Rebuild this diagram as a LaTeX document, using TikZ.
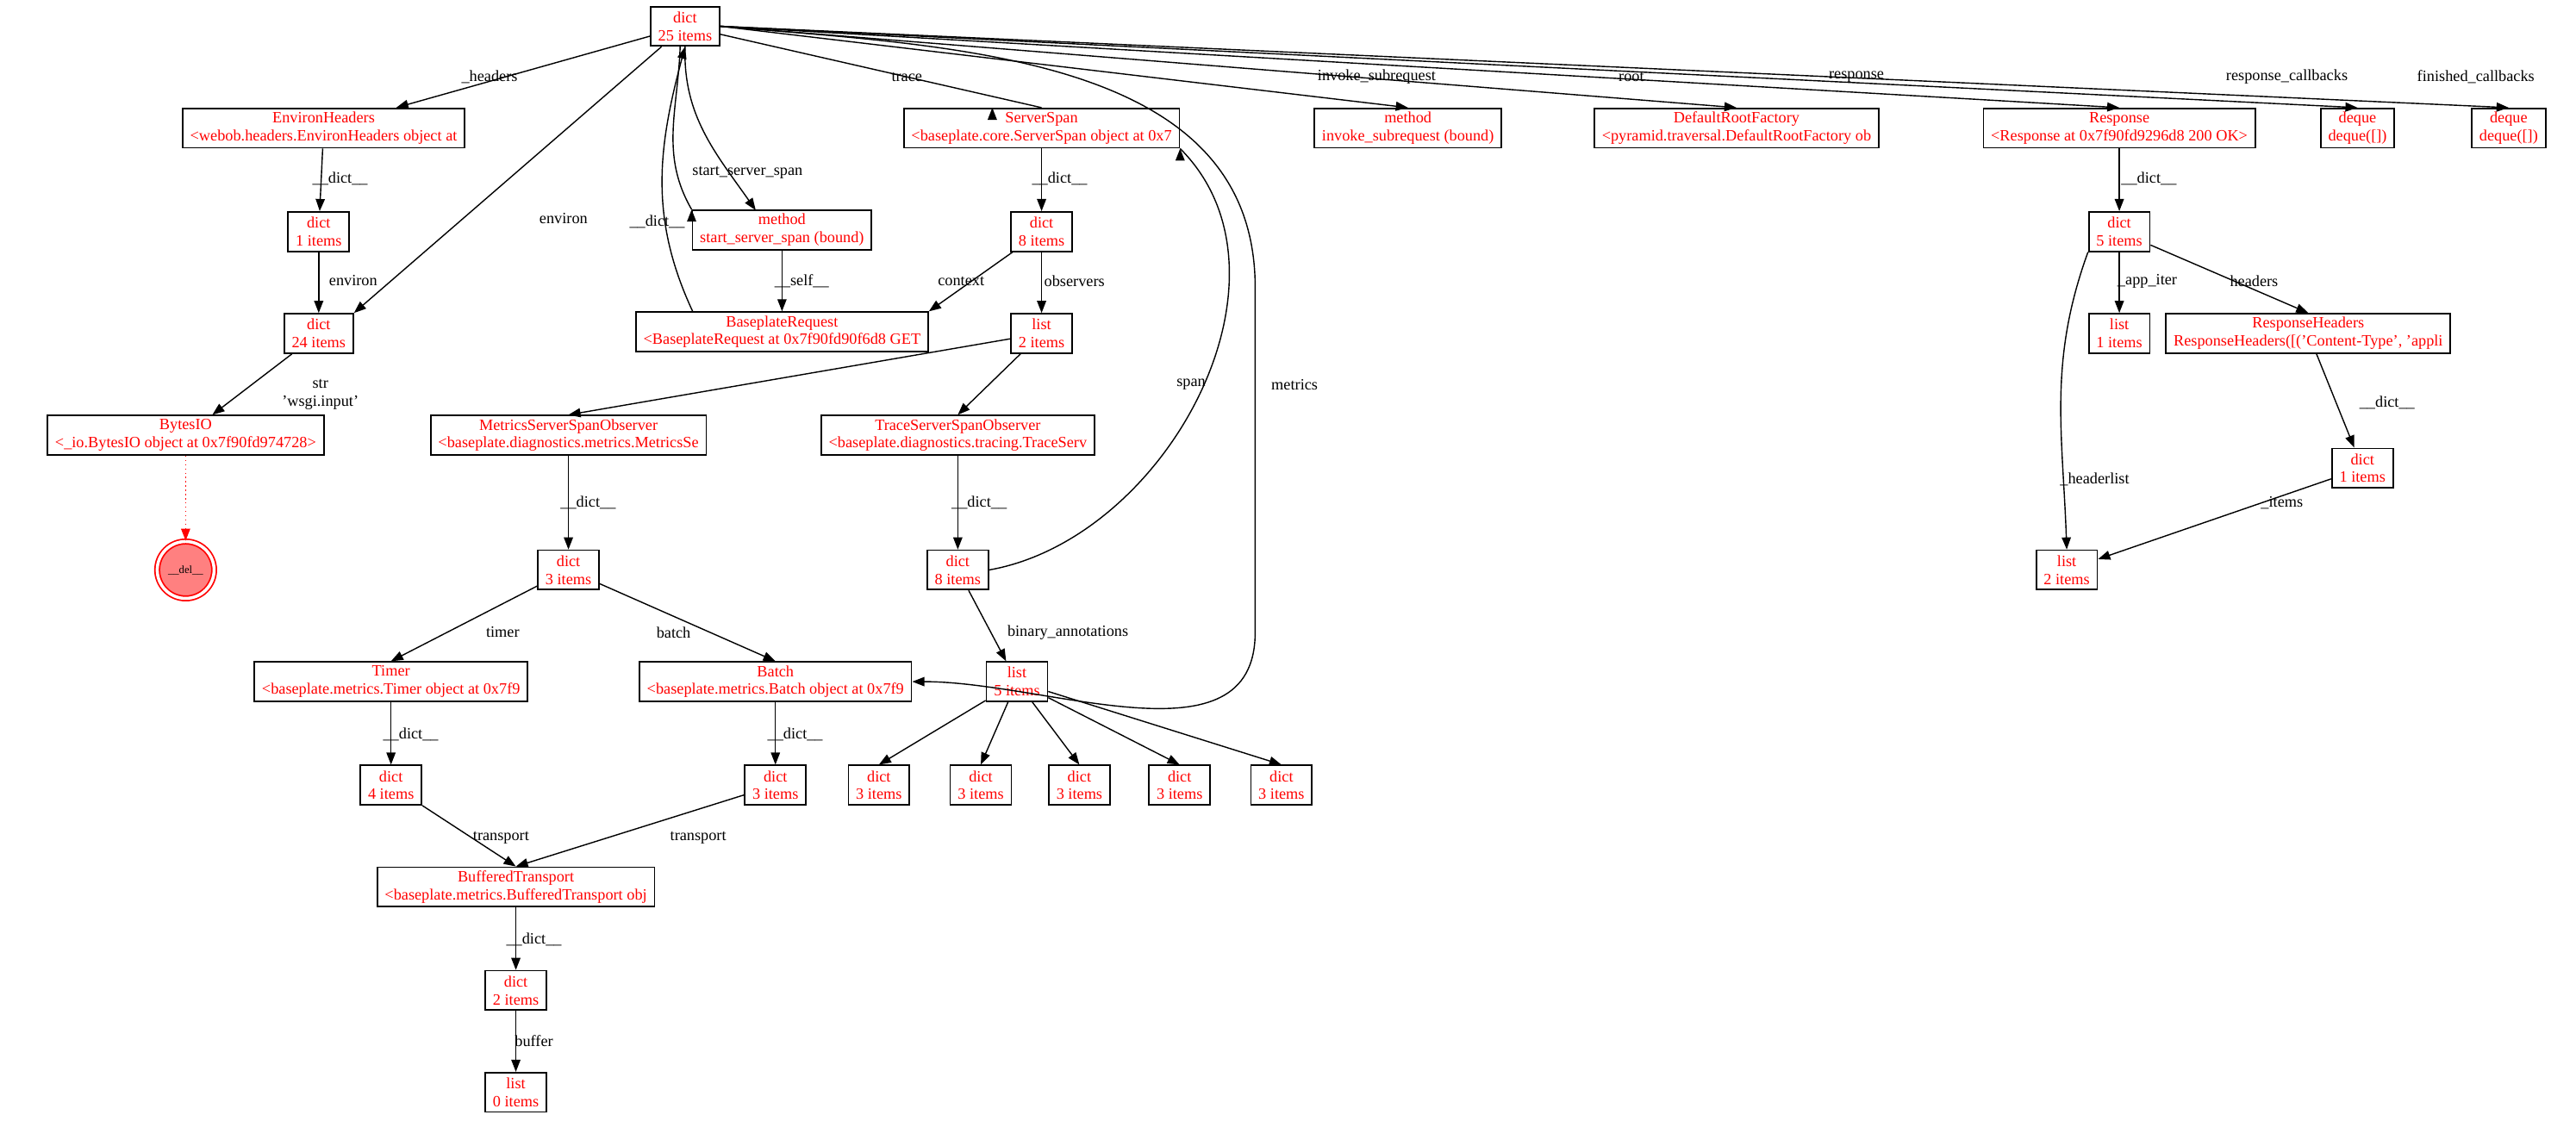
\documentclass[tikz,border=0pt]{standalone}
\usepackage{fontspec}
\setmainfont{Liberation Serif}
\usetikzlibrary{arrows.meta}
\tikzset{
  obj/.style={draw=black,line width=0.5pt,text=red,align=center,inner xsep=2.5pt,inner ysep=1pt,
    minimum height=0.457cm,font=\fontsize{5.2pt}{5.9pt}\selectfont},
  lbl/.style={text=black,align=center,inner sep=0.5pt,font=\fontsize{5.2pt}{5.9pt}\selectfont},
  ref/.style={line width=0.4pt,-{Triangle[length=4pt,width=3pt]}}
}
\begin{document}
\begin{tikzpicture}[x=0.01906cm,y=-0.01906cm]
\useasboundingbox (0,0) rectangle (1568,682);
% objects, top row
\node[obj] (root) at (417,16) {dict\\25 items};
\node[obj] (envh) at (197,78) {EnvironHeaders\\<webob.headers.EnvironHeaders object at};
\node[obj] (ssp) at (634,78) {ServerSpan\\<baseplate.core.ServerSpan object at 0x7};
\node[obj] (invk) at (857,78) {method\\invoke\_subrequest (bound)};
\node[obj] (drf) at (1057,78) {DefaultRootFactory\\<pyramid.traversal.DefaultRootFactory ob};
\node[obj] (resp) at (1290,78) {Response\\<Response at 0x7f90fd9296d8 200 OK>};
\node[obj] (dqa) at (1435,78) {deque\\deque([])};
\node[obj] (dqb) at (1527,78) {deque\\deque([])};
% request side
\node[obj] (envd) at (194,141) {dict\\1 items};
\node[obj] (envi) at (194,203) {dict\\24 items};
\node[obj] (bio) at (113,265) {BytesIO\\<\_io.BytesIO object at 0x7f90fd974728>};
\node[circle,draw=red,fill=red!50,line width=0.5pt,minimum size=0.66cm,inner sep=0pt,
  font=\fontsize{3.6pt}{4pt}\selectfont,double=white,double distance=1pt] (del) at (113,347) {\_\_del\_\_};
\node[obj] (meth) at (476,140) {method\\start\_server\_span (bound)};
\node[obj] (breq) at (476,202) {BaseplateRequest\\<BaseplateRequest at 0x7f90fd90f6d8 GET};
% span side
\node[obj] (sspd) at (634,141) {dict\\8 items};
\node[obj] (obs) at (634,203) {list\\2 items};
\node[obj] (mso) at (346,265) {MetricsServerSpanObserver\\<baseplate.diagnostics.metrics.MetricsSe};
\node[obj] (tso) at (583,265) {TraceServerSpanObserver\\<baseplate.diagnostics.tracing.TraceServ};
\node[obj] (msod) at (346,347) {dict\\3 items};
\node[obj] (tsod) at (583,347) {dict\\8 items};
\node[obj] (tmr) at (238,415) {Timer\\<baseplate.metrics.Timer object at 0x7f9};
\node[obj] (bat) at (472,415) {Batch\\<baseplate.metrics.Batch object at 0x7f9};
\node[obj] (ann) at (619,415) {list\\5 items};
\node[obj] (tmrd) at (238,478) {dict\\4 items};
\node[obj] (batd) at (472,478) {dict\\3 items};
\foreach \i/\x in {1/535,2/597,3/657,4/718,5/780}
  \node[obj] (ann\i) at (\x,478) {dict\\3 items};
\node[obj] (buf) at (314,540) {BufferedTransport\\<baseplate.metrics.BufferedTransport obj};
\node[obj] (bufd) at (314,603) {dict\\2 items};
\node[obj] (bufl) at (314,665) {list\\0 items};
% response side
\node[obj] (respd) at (1290,141) {dict\\5 items};
\node[obj] (appi) at (1290,203) {list\\1 items};
\node[obj] (rhdr) at (1405,203) {ResponseHeaders\\ResponseHeaders([('Content-Type', 'appli};
\node[obj] (rhdrd) at (1438,285) {dict\\1 items};
\node[obj] (hlst) at (1258,347) {list\\2 items};
% bends
\coordinate (mtop) at (764,175);
\coordinate (mbot) at (764,385);
% references from the root
\draw[ref] (root) -- (envh) node[lbl] at (298,47) {\_headers};
\draw[ref] (root) -- (envi.north east) node[lbl] at (343,133) {environ};
\draw[ref] (root.south) ++(-3,0) to[out=-92,in=120] (meth.north west |- meth.north) ++(0,0);
\draw[ref] (417,28) to[out=-92,in=125] (460,128) node[lbl] at (455,105) {start\_server\_span};
\draw[ref] (breq.north west) ++(35,0) to[out=115,in=-105] (root.south) node[lbl] at (400,135) {\_\_dict\_\_};
\draw[ref] (root) -- (ssp.north) ++(-30,0) node[lbl] at (552,47) {trace};
\draw[ref] (root.east) to[out=-5,in=90] (mtop) -- (mbot) to[out=-90,in=0] (bat.east) node[lbl] at (788,234) {metrics};
\draw[ref] (root.east) -- (invk.north) node[lbl] at (838,47) {invoke\_subrequest};
\draw[ref] (root.east) -- (drf.north) node[lbl] at (993,47) {root};
\draw[ref] (root.east) -- (resp.north) node[lbl] at (1130,47) {response};
\draw[ref] (root.east) -- (dqa.north) node[lbl] at (1392,47) {response\_callbacks};
\draw[ref] (root.east) -- (dqb.north) node[lbl] at (1507,47) {finished\_callbacks};
% request side
\draw[ref] (envh) -- (envd) node[lbl] at (207,109) {\_\_dict\_\_};
\draw[ref] (envd) -- (envi) node[lbl] at (215,171) {environ};
\draw[ref] (envi) -- (bio) node[lbl] at (195,240) {str\\'wsgi.input'};
\draw[ref,red,densely dotted] (bio) -- (del);
\draw[ref] (meth) -- (breq) node[lbl] at (488,171) {\_\_self\_\_};
% span side
\draw[ref] (ssp) -- (sspd) node[lbl] at (645,109) {\_\_dict\_\_};
\draw[ref] (sspd) -- (breq.north east) node[lbl] at (585,171) {context};
\draw[ref] (sspd) -- (obs) node[lbl] at (654,171) {observers};
\draw[ref] (obs) -- (mso.north);
\draw[ref] (obs) -- (tso.north);
\draw[ref] (mso) -- (msod) node[lbl] at (358,306) {\_\_dict\_\_};
\draw[ref] (tso) -- (tsod) node[lbl] at (596,306) {\_\_dict\_\_};
\draw[ref] (tsod.east) to[out=10,in=-45] (ssp.south east) ++(0,0) node[lbl] at (725,234) {span};
\draw[ref] (msod) -- (tmr.north) node[lbl] at (306,385) {timer};
\draw[ref] (msod) -- (bat.north) node[lbl] at (410,385) {batch};
\draw[ref] (tsod) -- (ann) node[lbl] at (650,385) {binary\_annotations};
\foreach \i in {1,...,5}
  \draw[ref] (ann) -- (ann\i.north);
\draw[ref] (tmr) -- (tmrd) node[lbl] at (250,447) {\_\_dict\_\_};
\draw[ref] (bat) -- (batd) node[lbl] at (484,447) {\_\_dict\_\_};
\draw[ref] (tmrd) -- (buf.north) node[lbl] at (305,510) {transport};
\draw[ref] (batd) -- (buf.north) node[lbl] at (425,510) {transport};
\draw[ref] (buf) -- (bufd) node[lbl] at (325,572) {\_\_dict\_\_};
\draw[ref] (bufd) -- (bufl) node[lbl] at (325,634) {buffer};
% response side
\draw[ref] (resp) -- (respd) node[lbl] at (1308,109) {\_\_dict\_\_};
\draw[ref] (respd) -- (appi) node[lbl] at (1307,171) {\_app\_iter};
\draw[ref] (respd) -- (rhdr.north) node[lbl] at (1372,171) {headers};
\draw[ref] (respd.south west) to[out=-110,in=92] (hlst.north) node[lbl] at (1275,292) {\_headerlist};
\draw[ref] (rhdr) -- (rhdrd) node[lbl] at (1453,245) {\_\_dict\_\_};
\draw[ref] (rhdrd) -- (hlst) node[lbl] at (1389,306) {\_items};
\end{tikzpicture}
\end{document}
